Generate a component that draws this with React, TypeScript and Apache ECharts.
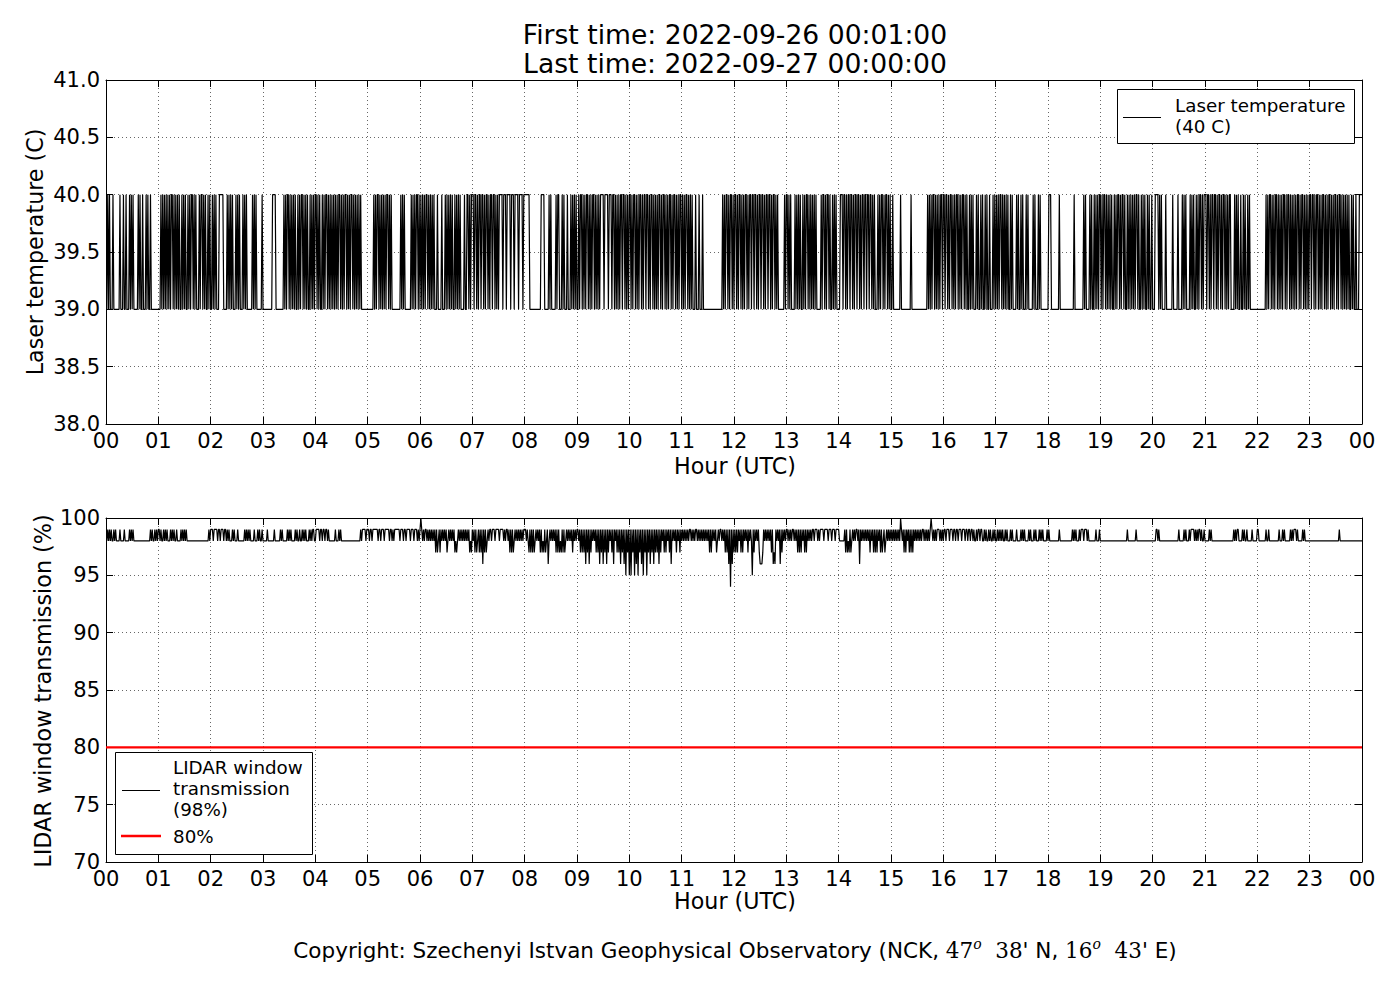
import React, { useEffect, useRef } from "react";
import * as echarts from "echarts";

const FONT = "DejaVu Sans";

const HOUR_LABELS: string[] = [
  "00", "01", "02", "03", "04", "05", "06", "07", "08", "09", "10", "11",
  "12", "13", "14", "15", "16", "17", "18", "19", "20", "21", "22", "23", "00",
];

const TITLE_LINES: string[] = ["First time: 2022-09-26 00:01:00", "Last time: 2022-09-27 00:00:00"];

// Laser temperature, one string per hour, one char per minute: 0 = 39 C, 1 = 40 C
const LASER_LEVELS: Record<string, number> = { "0": 39, "1": 40 };
const LASER_BITS: string[] = [
  "0101000100 0000010001 0010001010 1000001010 0100010100 1000000000",
  "0010101010 1010110101 0101001010 1001010110 1010001011 0101001010",
  "0101010001 1111000010 1010100010 1010001010 1000000101 0100000010",
  "0000000000 1111000000 0001010110 1010101001 0101101010 1001010101",
  "1010100101 0110101010 1010101101 0101101010 1101010101 0100000000",
  "0000001010 1101010101 0110101000 0000000101 0100000001 0101011010",
  "1010101101 0101010001 0000100010 1010101001 0101010000 1001101011",
  "1011010110 1101011010 1101101010 1111011101 1110111011 1101111011",
  "1111100000 0000000011 1100000101 0000010110 0010100010 0010101010",
  "0101101010 1101010110 1010101111 0111101110 1101010101 1011010101",
  "1010110101 0110101101 1010110101 0101101011 0101011010 1101010110",
  "1010110101 0100010001 0001000000 0000000000 0000001010 1101011010",
  "1101011010 1011010110 1101101011 0110101101 1010110101 0000000101",
  "1010100001 0101010010 1011010101 0101000001 0110101101 0010101000",
  "0111011010 1101101011 0110101101 1011011010 1000101011 0101101010",
  "0100000000 1000000000 0010000000 0000000000 0101010110 1010101101",
  "1011010110 1010110101 0110101001 0101000101 0010100101 0010001010",
  "1010110101 0101001010 0001010010 1000101000 0010100010 1000000000",
  "1110000000 0010000000 0000000001 0000000000 1010000101 0010101011",
  "0101101010 1010010101 1010110100 1010101010 1101001010 1001010010",
  "0011110101 0000100000 0010000010 0001010100 0010101001 0101101011",
  "1011010110 1101011010 1101010110 0001010100 1001010010 1000000000",
  "0000000001 0101101010 1101010101 1010110101 0101011010 1101010101",
  "1011010110 1010110101 0110101011 0101101010 1010100101 0010001111",
];

// LIDAR window transmission (%), one string per hour, one char per minute
const LIDAR_LEVELS: Record<string, number> = {
  "4": 94, "5": 95, "6": 96, "7": 97, "8": 98, "9": 99, X: 100,
};
const LIDAR_CODES: string[] = [
  "8989898898 9888898888 9888889898 9888888888 8888888888 9898898989",
  "9898898989 8889898988 9888898989 8988888888 8888888888 8888888989",
  "9989999899 8999899898 9888989888 9888888898 9898988889 8889898898",
  "8888988888 8898888889 8988888989 8988889898 8988989898 8898989988",
  "9999899899 8998988888 8898889898 8888888888 8888888888 8989999899",
  "9899899999 9899899989 9999899898 9999998999 8998999989 9989998989",
  "X989899898 9898989797 8979898989 7898989897 8789898989 8989897879",
  "8979789797 9697978989 9899989999 8999989899 8979797898 9898989899",
  "9898797979 7898989797 8797896898 9898979797 8797978989 8989798989",
  "9897979796 9796979898 9797969796 9796979897 9698979796 9796959795",
  "9597959695 9796959795 9796979697 9796979897 9798979698 9897989798",
  "9898989899 8989899898 9898989898 9797989897 8989989897 9796949697",
  "9797989797 9898979898 5979898976 6679898989 8979676989 8969798989",
  "9898989989 8979797989 7979898989 9899989899 9989999899 9899989999",
  "8888889797 8797898989 9896989898 9898979897 9797989797 8978989898",
  "9898989898 X989797989 7979798989 8989899898 98989X9898 9899989898",
  "9989998999 8998998999 8999899899 8998988989 9899889898 8989889898",
  "8989898988 9898889898 8889888898 9898888989 8889898889 8989888898",
  "9888888888 8898888888 8888888989 8988898999 8999898888 8888988898",
  "8888888888 8888888888 8888888888 9888888888 9888888888 8888888888",
  "8889989888 8888888888 8888888889 8888898988 8989999898 9899898898",
  "8888989888 8888888888 8888888888 8898989988 8898988988 8889888889",
  "9888888889 8898888888 8888988898 9888888989 8999898888 8989888888",
  "8888888888 8888888888 8888888888 8889888888 8888888888 8888888888",
];

const THRESHOLD = 80;

const LEGEND_TOP: string[] = ["Laser temperature", "(40 C)"];
const LEGEND_BOTTOM: string[] = ["LIDAR window", "transmission", "(98%)"];
const LEGEND_THRESHOLD = "80%";

function decode(rows: string[], levels: Record<string, number>): [number, number][] {
  const out: [number, number][] = [];
  rows.forEach((row, h) => {
    const chars = row.replace(/\s+/g, "");
    for (let m = 0; m < chars.length; m++) {
      out.push([h * 60 + m + 1, levels[chars[m]]]);
    }
  });
  return out;
}

const hourFmt = (v: number) => HOUR_LABELS[Math.round(v / 60)] ?? "";

function xAxisCfg(grid: number, pos: "top" | "bottom", labels: boolean) {
  return {
    type: "value",
    gridIndex: grid,
    position: pos,
    min: 0,
    max: 1440,
    interval: 60,
    axisLine: { show: true, onZero: false, lineStyle: { color: "#000", width: 1 } },
    axisTick: { show: true, inside: true, length: 7, lineStyle: { color: "#000", width: 1 } },
    axisLabel: labels
      ? {
          show: true,
          formatter: hourFmt,
          fontSize: 21,
          fontFamily: FONT,
          color: "#000",
          margin: 6,
          showMinLabel: true,
          showMaxLabel: true,
        }
      : { show: false },
    splitLine: labels
      ? { show: true, lineStyle: { color: "#000", width: 0.6, type: [1, 3] } }
      : { show: false },
  };
}

function yAxisCfg(
  grid: number,
  pos: "left" | "right",
  min: number,
  max: number,
  interval: number,
  fmt: (v: number) => string,
  labels: boolean
) {
  return {
    type: "value",
    gridIndex: grid,
    position: pos,
    min,
    max,
    interval,
    axisLine: { show: true, onZero: false, lineStyle: { color: "#000", width: 1 } },
    axisTick: { show: true, inside: true, length: 7, lineStyle: { color: "#000", width: 1 } },
    axisLabel: labels
      ? {
          show: true,
          formatter: fmt,
          fontSize: 21,
          fontFamily: FONT,
          color: "#000",
          margin: 6,
          showMinLabel: true,
          showMaxLabel: true,
        }
      : { show: false },
    splitLine: labels
      ? { show: true, lineStyle: { color: "#000", width: 0.6, type: [1, 3] } }
      : { show: false },
  };
}

function txt(
  text: string,
  x: number,
  y: number,
  size: number,
  align: string = "left",
  rotation = 0
) {
  return {
    type: "text",
    x,
    y,
    rotation,
    z: 100,
    style: {
      text,
      fontSize: size,
      fontFamily: FONT,
      fill: "#000",
      textAlign: align,
      textVerticalAlign: "middle",
    },
  };
}

export default function App() {
  const ref = useRef<HTMLDivElement>(null);

  useEffect(() => {
    if (!ref.current) return;
    const chart = echarts.init(ref.current, undefined, { renderer: "svg" });

    const laser = decode(LASER_BITS, LASER_LEVELS);
    const lidar = decode(LIDAR_CODES, LIDAR_LEVELS);

    const graphic: any[] = [
      txt(TITLE_LINES[0], 735, 34, 26.6, "center"),
      txt(TITLE_LINES[1], 735, 63, 26.6, "center"),
      txt("Hour (UTC)", 735, 466, 22.2, "center"),
      txt("Hour (UTC)", 735, 901, 22.2, "center"),
      txt("Laser temperature (C)", 35, 252, 22.2, "center", Math.PI / 2),
      txt("LIDAR window transmission (%)", 43, 691, 22.3, "center", Math.PI / 2),
      // top legend
      {
        type: "rect",
        z: 90,
        shape: { x: 1117.5, y: 89.5, width: 237, height: 54 },
        style: { fill: "#fff", stroke: "#000", lineWidth: 1 },
      },
      {
        type: "line",
        z: 100,
        shape: { x1: 1123, y1: 117.5, x2: 1161, y2: 117.5 },
        style: { stroke: "#000", lineWidth: 1.2 },
      },
      txt(LEGEND_TOP[0], 1175, 105, 18.3),
      txt(LEGEND_TOP[1], 1175, 126, 18.3),
      // bottom legend
      {
        type: "rect",
        z: 90,
        shape: { x: 115.5, y: 752.5, width: 197, height: 102 },
        style: { fill: "#fff", stroke: "#000", lineWidth: 1 },
      },
      {
        type: "line",
        z: 100,
        shape: { x1: 122, y1: 790.5, x2: 160, y2: 790.5 },
        style: { stroke: "#000", lineWidth: 1.2 },
      },
      {
        type: "line",
        z: 100,
        shape: { x1: 121, y1: 836, x2: 161, y2: 836 },
        style: { stroke: "#ff0000", lineWidth: 2.5 },
      },
      txt(LEGEND_BOTTOM[0], 173, 767, 18.3),
      txt(LEGEND_BOTTOM[1], 173, 788, 18.3),
      txt(LEGEND_BOTTOM[2], 173, 809, 18.3),
      txt(LEGEND_THRESHOLD, 173, 836, 18.3),
      // copyright
      {
        type: "text",
        x: 735,
        y: 950,
        z: 100,
        style: {
          text:
            "Copyright: Szechenyi Istvan Geophysical Observatory (NCK, {m|47}{s|o}  {m|38}' N, {m|16}{s|o}  {m|43}' E)",
          fontSize: 21.5,
          fontFamily: FONT,
          fill: "#000",
          textAlign: "center",
          textVerticalAlign: "middle",
          rich: {
            m: { fontSize: 21.5, fontFamily: "DejaVu Serif", fill: "#000", lineHeight: 26 },
            s: {
              fontSize: 14,
              fontFamily: "DejaVu Serif",
              fontStyle: "italic",
              fill: "#000",
              verticalAlign: "top",
              lineHeight: 15,
            },
          },
        },
      },
    ];

    const option: any = {
      animation: false,
      backgroundColor: "#fff",
      textStyle: { fontFamily: FONT },
      grid: [
        { left: 106, top: 80, width: 1256, height: 344, containLabel: false },
        { left: 106, top: 518, width: 1256, height: 344, containLabel: false },
      ],
      xAxis: [
        xAxisCfg(0, "bottom", true),
        xAxisCfg(0, "top", false),
        xAxisCfg(1, "bottom", true),
        xAxisCfg(1, "top", false),
      ],
      yAxis: [
        yAxisCfg(0, "left", 38, 41, 0.5, (v) => v.toFixed(1), true),
        yAxisCfg(0, "right", 38, 41, 0.5, (v) => v.toFixed(1), false),
        yAxisCfg(1, "left", 70, 100, 5, (v) => String(v), true),
        yAxisCfg(1, "right", 70, 100, 5, (v) => String(v), false),
      ],
      series: [
        {
          type: "line",
          name: "Laser temperature",
          xAxisIndex: 0,
          yAxisIndex: 0,
          data: laser,
          showSymbol: false,
          symbol: "none",
          lineStyle: { color: "#000", width: 1.2 },
          itemStyle: { color: "#000" },
          z: 5,
        },
        {
          type: "line",
          name: "LIDAR window transmission",
          xAxisIndex: 2,
          yAxisIndex: 2,
          data: lidar,
          showSymbol: false,
          symbol: "none",
          lineStyle: { color: "#000", width: 1.2 },
          itemStyle: { color: "#000" },
          z: 5,
        },
        {
          type: "line",
          name: "80%",
          xAxisIndex: 2,
          yAxisIndex: 2,
          data: [
            [0, THRESHOLD],
            [1440, THRESHOLD],
          ],
          showSymbol: false,
          symbol: "none",
          lineStyle: { color: "#ff0000", width: 2.2 },
          itemStyle: { color: "#ff0000" },
          z: 6,
        },
      ],
      graphic,
    };

    chart.setOption(option);
    return () => chart.dispose();
  }, []);

  return (
    <div
      ref={ref}
      style={{ position: "absolute", left: 0, top: 0, width: 1400, height: 1000, background: "#fff" }}
    />
  );
}
